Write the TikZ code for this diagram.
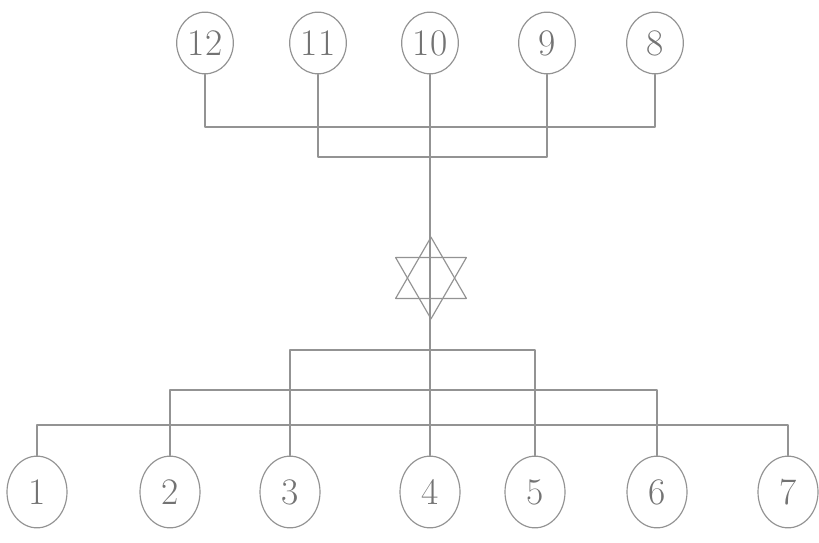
\documentclass[tikz,border=0pt]{standalone}
\usepackage{tikz}
\usetikzlibrary{shapes.geometric}
\tikzset{ball/.style={draw=gray!85,ellipse,line width=1pt,inner sep=0pt,
    minimum width=1.7cm,minimum height=1.85cm,font=\fontsize{32}{32}\selectfont,text=gray!90!black},
  lowball/.style={ball,minimum width=1.8cm,minimum height=2.15cm},
  wire/.style={draw=gray!85,line width=0.9pt},
  tri/.style={draw=gray!85,line width=1pt,regular polygon,regular polygon sides=3,
    minimum size=2.45cm,inner sep=0pt}}
\begin{document}
\begin{tikzpicture}[x=0.03cm,y=-0.03cm,line join=round,line cap=round]
	\useasboundingbox (0,0) rectangle (819,543);
	% top row
	\foreach \n/\x in {12/205,11/318,10/430,9/547,8/655}
		\node[ball] (t\n) at (\x,43) {\n};
	% bottom row
	\foreach \n/\x in {1/37,2/170,3/290,4/430,5/535,6/657,7/788}
		\node[lowball] (b\n) at (\x,492) {\n};
	\coordinate (top1) at (430,127);
	\coordinate (top2) at (430,157);
	\coordinate (bot1) at (430,350);
	\coordinate (bot2) at (430,390);
	\coordinate (bot3) at (430,425);
	\draw[wire] (t12.south) |- (top1) -| (t8.south);
	\draw[wire] (t11.south) |- (top2) -| (t9.south);
	\draw[wire] (t10.south) -- (b4.north);
	\draw[wire] (b3.north) |- (bot1) -| (b5.north);
	\draw[wire] (b2.north) |- (bot2) -| (b6.north);
	\draw[wire] (b1.north) |- (bot3) -| (b7.north);
	% star
	\node[tri] (star) at (431,278) {};
	\node[tri,rotate=180] (star2) at (431,278) {};
\end{tikzpicture}
\end{document}
